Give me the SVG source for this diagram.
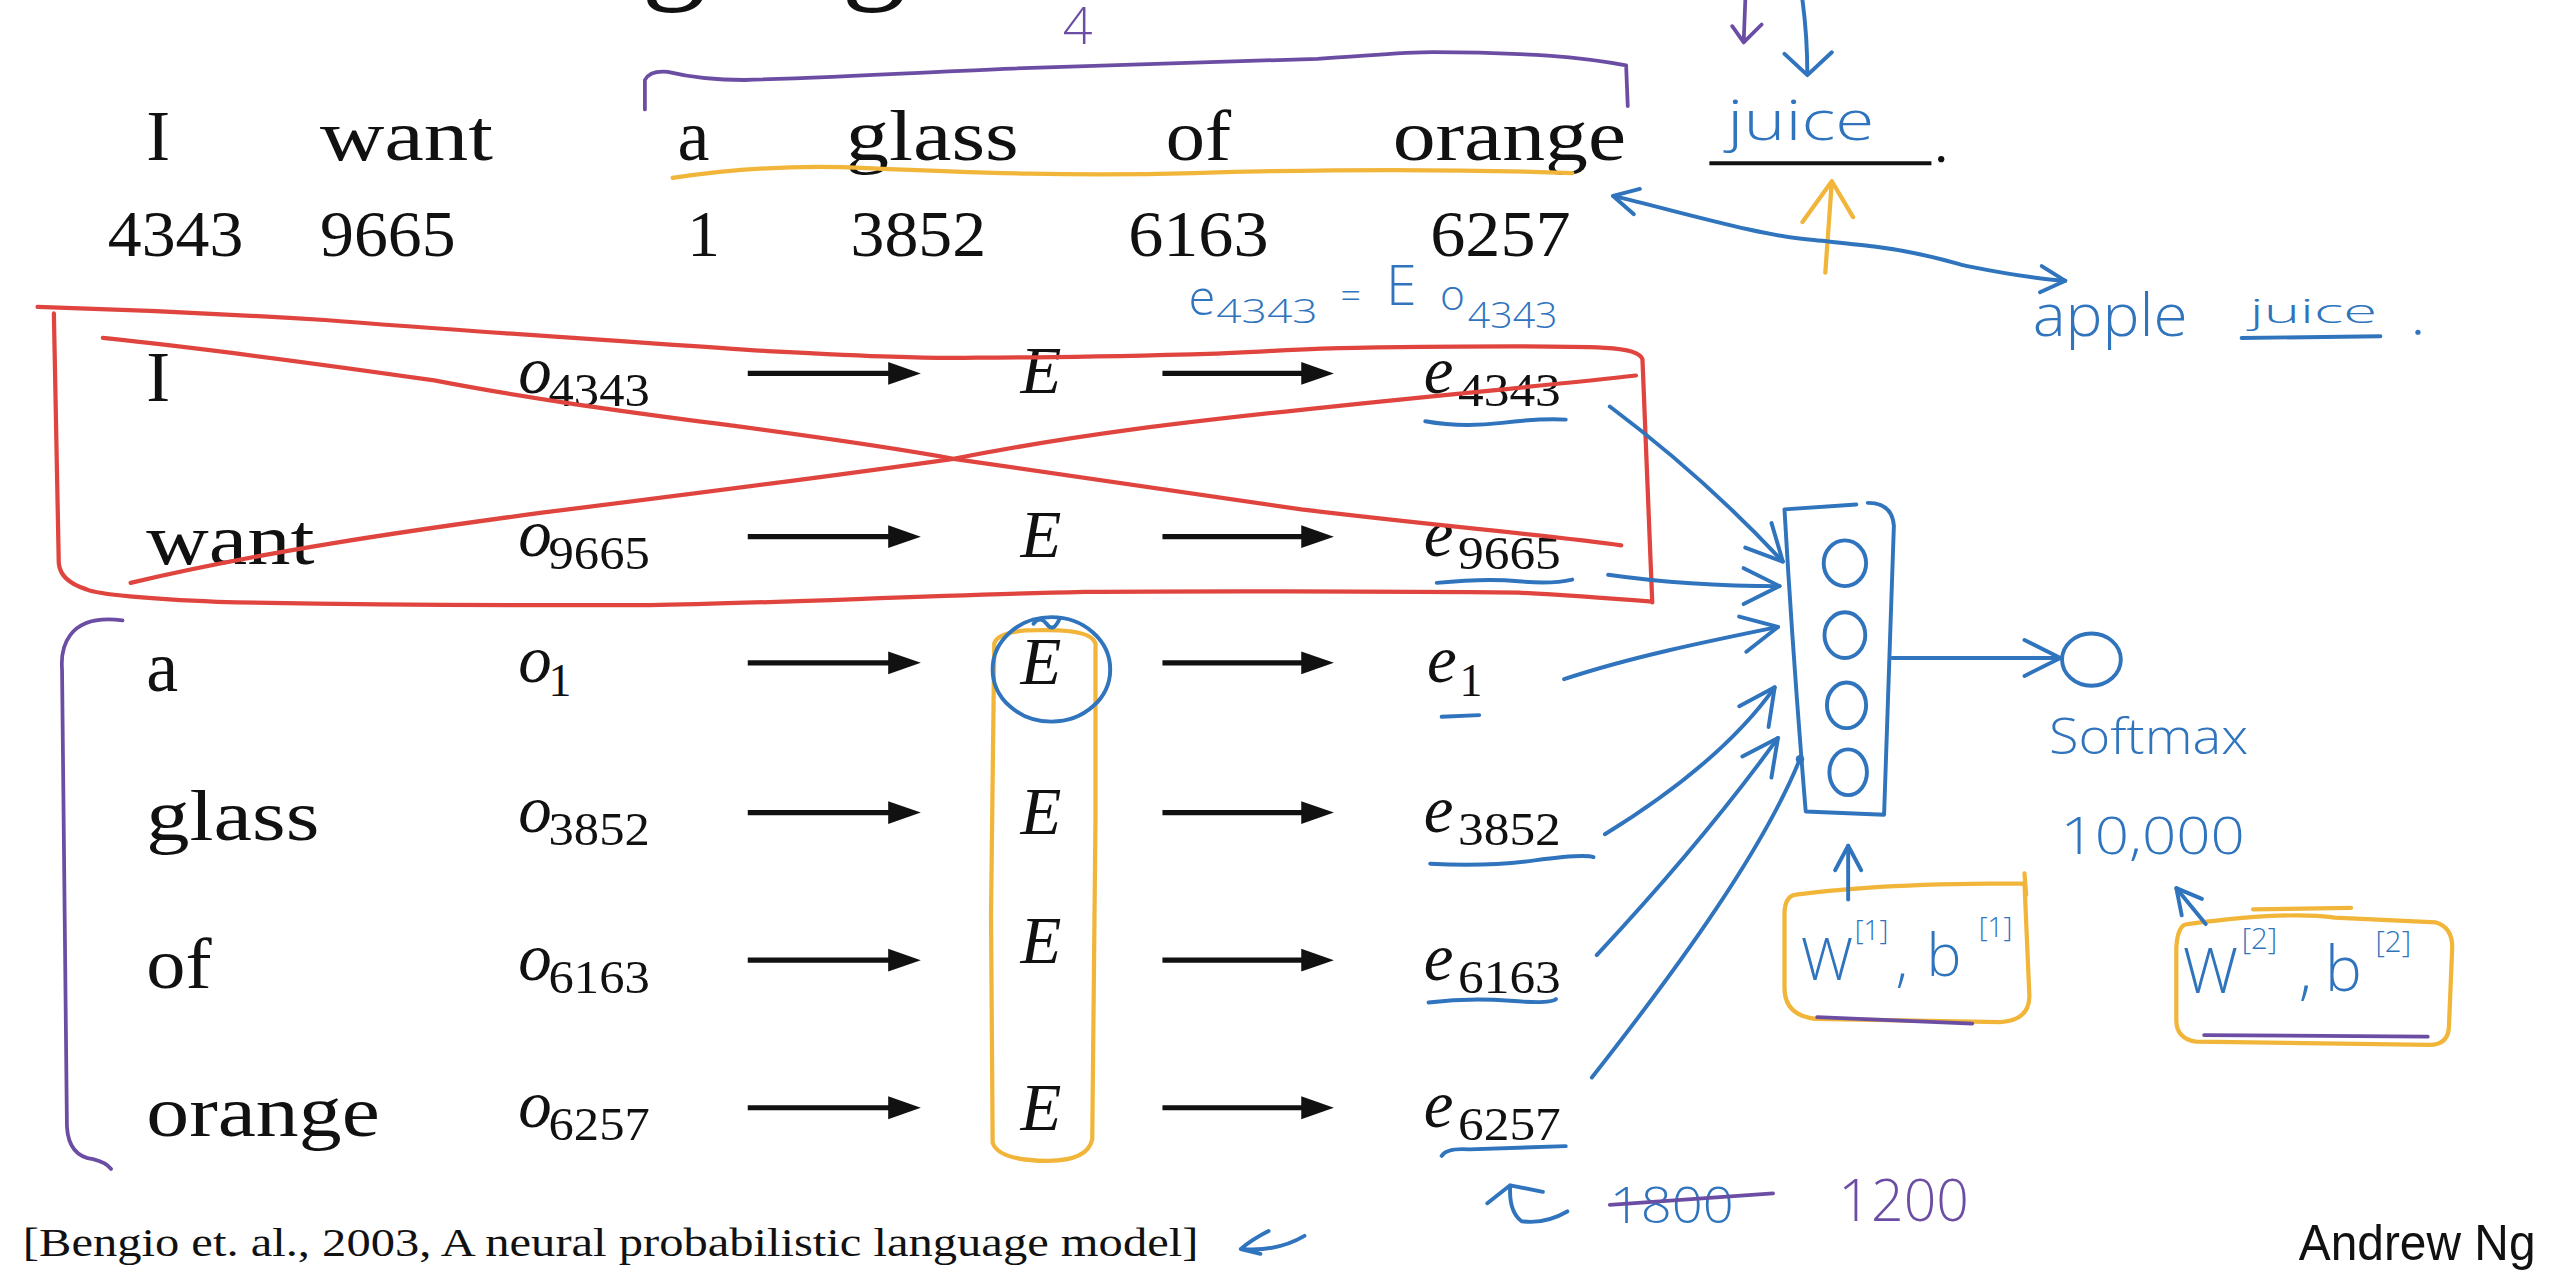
<svg xmlns="http://www.w3.org/2000/svg" width="2560" height="1280" viewBox="0 0 2560 1280">
<defs>
<style>
.w{font-family:"Liberation Serif","Times New Roman",serif;font-size:44px;fill:#111}
.n{font-family:"Liberation Serif","Times New Roman",serif;font-size:40px;fill:#111}
.m{font-family:"Liberation Serif","Times New Roman",serif;font-style:italic;font-size:41px;fill:#111}
.s{font-family:"Liberation Serif","Times New Roman",serif;font-size:28px;fill:#111}
.hb{font-family:"Open Sans","Noto Sans",sans-serif;font-weight:300;fill:#2f74bd}
.hp{font-family:"Open Sans","Noto Sans",sans-serif;font-weight:300;fill:#6b4ea3}
.blue{fill:none;stroke:#2f74bd;stroke-width:2.4;stroke-linecap:round;stroke-linejoin:round}
.red{fill:none;stroke:#e0443e;stroke-width:2.6;stroke-linecap:round;stroke-linejoin:round}
.pur{fill:none;stroke:#6b4ea3;stroke-width:2.3;stroke-linecap:round;stroke-linejoin:round}
.org{fill:none;stroke:#f1b53a;stroke-width:2.6;stroke-linecap:round;stroke-linejoin:round}
.ar{stroke:#111;stroke-width:3.2}
.ah{fill:#111}
</style>
<marker id="chev" markerUnits="userSpaceOnUse" markerWidth="28" markerHeight="28" viewBox="0 0 28 28" refX="25" refY="14" orient="auto">
<path d="M3,3 L25,14 L3,25" fill="none" stroke="#2f74bd" stroke-width="2.4" stroke-linecap="round" stroke-linejoin="round"/>
</marker>
<marker id="chevs" markerUnits="userSpaceOnUse" markerWidth="20" markerHeight="20" viewBox="0 0 20 20" refX="18" refY="10" orient="auto-start-reverse">
<path d="M3,2 L18,10 L3,18" fill="none" stroke="#2f74bd" stroke-width="2.4" stroke-linecap="round" stroke-linejoin="round"/>
</marker>
</defs>
<rect width="2560" height="1280" fill="#ffffff"/>
<g transform="scale(1.632653)">

<g id="title">
<text x="34.6" y="-9.4" letter-spacing="2.3" style="font-family:'Liberation Serif','Times New Roman',serif;font-size:80px;fill:#111">Neural language model</text>
</g>

<g id="sentence">
<text class="w" x="89.6" y="98">I</text>
<text class="w" x="196" y="98" textLength="106" lengthAdjust="spacingAndGlyphs">want</text>
<text class="w" x="415" y="98">a</text>
<text class="w" x="518" y="98" textLength="106" lengthAdjust="spacingAndGlyphs">glass</text>
<text class="w" x="714" y="98" textLength="40" lengthAdjust="spacingAndGlyphs">of</text>
<text class="w" x="853" y="98" textLength="143" lengthAdjust="spacingAndGlyphs">orange</text>
<path d="M1047,100 L1183,100" stroke="#111" stroke-width="2.5"/>
<circle cx="1189" cy="97.5" r="1.9" fill="#111"/>
</g>

<g id="indices">
<text class="n" x="66" y="157" textLength="83" lengthAdjust="spacingAndGlyphs">4343</text>
<text class="n" x="196" y="157" textLength="83" lengthAdjust="spacingAndGlyphs">9665</text>
<text class="n" x="421" y="157">1</text>
<text class="n" x="521" y="157" textLength="83" lengthAdjust="spacingAndGlyphs">3852</text>
<text class="n" x="691" y="157" textLength="86" lengthAdjust="spacingAndGlyphs">6163</text>
<text class="n" x="876" y="157" textLength="86" lengthAdjust="spacingAndGlyphs">6257</text>
</g>

<g id="row-I">
<text class="w" x="89.6" y="245.7">I</text>
<text class="m" x="317.5" y="240.7">o</text><text class="s" x="336" y="248.7" textLength="62" lengthAdjust="spacingAndGlyphs">4343</text>
<text class="m" x="625" y="241">E</text>
<text class="m" x="872" y="240.7">e</text><text class="s" x="893" y="248.7" textLength="63" lengthAdjust="spacingAndGlyphs">4343</text>
</g>
<g id="row-want">
<text class="w" x="89.6" y="345.7" textLength="103" lengthAdjust="spacingAndGlyphs">want</text>
<text class="m" x="317.5" y="340.7">o</text><text class="s" x="336" y="348.7" textLength="62" lengthAdjust="spacingAndGlyphs">9665</text>
<text class="m" x="625" y="341">E</text>
<text class="m" x="872" y="340.7">e</text><text class="s" x="893" y="348.7" textLength="63" lengthAdjust="spacingAndGlyphs">9665</text>
</g>
<g id="row-a">
<text class="w" x="89.6" y="423">a</text>
<text class="m" x="317.5" y="418">o</text><text class="s" x="336" y="426">1</text>
<text class="m" x="625" y="419">E</text>
<text class="m" x="874" y="418">e</text><text class="s" x="894" y="426">1</text>
</g>
<g id="row-glass">
<text class="w" x="89.6" y="514.7" textLength="106" lengthAdjust="spacingAndGlyphs">glass</text>
<text class="m" x="317.5" y="509.7">o</text><text class="s" x="336" y="517.7" textLength="62" lengthAdjust="spacingAndGlyphs">3852</text>
<text class="m" x="625" y="510.7">E</text>
<text class="m" x="872" y="509.7">e</text><text class="s" x="893" y="517.7" textLength="63" lengthAdjust="spacingAndGlyphs">3852</text>
</g>
<g id="row-of">
<text class="w" x="89.6" y="605.1" textLength="40" lengthAdjust="spacingAndGlyphs">of</text>
<text class="m" x="317.5" y="600.1">o</text><text class="s" x="336" y="608.1" textLength="62" lengthAdjust="spacingAndGlyphs">6163</text>
<text class="m" x="625" y="590">E</text>
<text class="m" x="872" y="600.1">e</text><text class="s" x="893" y="608.1" textLength="63" lengthAdjust="spacingAndGlyphs">6163</text>
</g>
<g id="row-orange">
<text class="w" x="89.6" y="695.5" textLength="143" lengthAdjust="spacingAndGlyphs">orange</text>
<text class="m" x="317.5" y="690.5">o</text><text class="s" x="336" y="698.5" textLength="62" lengthAdjust="spacingAndGlyphs">6257</text>
<text class="m" x="625" y="692">E</text>
<text class="m" x="872" y="690.5">e</text><text class="s" x="893" y="698.5" textLength="63" lengthAdjust="spacingAndGlyphs">6257</text>
</g>

<g id="table-arrows">
<line class="ar" x1="458" y1="228.7" x2="548" y2="228.7"/><polygon class="ah" points="544,221.7 564,228.7 544,235.7"/>
<line class="ar" x1="712" y1="228.7" x2="801" y2="228.7"/><polygon class="ah" points="797,221.7 817,228.7 797,235.7"/>
<line class="ar" x1="458" y1="328.7" x2="548" y2="328.7"/><polygon class="ah" points="544,321.7 564,328.7 544,335.7"/>
<line class="ar" x1="712" y1="328.7" x2="801" y2="328.7"/><polygon class="ah" points="797,321.7 817,328.7 797,335.7"/>
<line class="ar" x1="458" y1="406" x2="548" y2="406"/><polygon class="ah" points="544,399 564,406 544,413"/>
<line class="ar" x1="712" y1="406" x2="801" y2="406"/><polygon class="ah" points="797,399 817,406 797,413"/>
<line class="ar" x1="458" y1="497.7" x2="548" y2="497.7"/><polygon class="ah" points="544,490.7 564,497.7 544,504.7"/>
<line class="ar" x1="712" y1="497.7" x2="801" y2="497.7"/><polygon class="ah" points="797,490.7 817,497.7 797,504.7"/>
<line class="ar" x1="458" y1="588.1" x2="548" y2="588.1"/><polygon class="ah" points="544,581.1 564,588.1 544,595.1"/>
<line class="ar" x1="712" y1="588.1" x2="801" y2="588.1"/><polygon class="ah" points="797,581.1 817,588.1 797,595.1"/>
<line class="ar" x1="458" y1="678.5" x2="548" y2="678.5"/><polygon class="ah" points="544,671.5 564,678.5 544,685.5"/>
<line class="ar" x1="712" y1="678.5" x2="801" y2="678.5"/><polygon class="ah" points="797,671.5 817,678.5 797,685.5"/>
</g>

<g id="strike-box">
<path class="red" d="M23,188 C90,190 150,193 199,196 C300,204 398,210 470,215 C530,218 570,220 598,219 C650,219 690,218 730,217 C770,216 800,213 830,213 C900,212 960,212 983,213 Q1004,214 1006,220 L1012,369 M1012,368.5 C980,366 950,364 930,363 C850,362 720,362 664,362.5 C560,365 460,370 398,370.6 C300,371 200,370 133,368.6 C90,367 60,364 53,361 Q37,356 36,345 L33,192"/>
<path class="red" d="M63,207 C140,215 210,225 266,233 C380,255 480,262 584,281 C660,292 730,302 797,312 C880,322 950,328 993,334"/>
<path class="red" d="M80,357 C160,338 250,325 332,314 C420,303 500,293 584,281 C660,266 730,258 797,251 C880,242 950,236 1002,230"/>
</g>

<g id="embedding-column">
<path class="org" d="M609,394 Q612,386 636,386 Q668,385 671,394 L671,500 L669,698 Q666,711 642,711 Q612,711 608,700 L607,560 Z"/>
<ellipse class="blue" cx="644" cy="410" rx="36" ry="32"/>
<path class="blue" d="M633,382 Q637,377 641,382 Q645,388 649,379" stroke-width="1.6"/>
</g>

<g id="context-brackets">
<path class="pur" d="M75,380 Q52,377 43,389 Q37,397 38,410 L41,690 Q42,708 57,710 Q65,712 68,716"/>
<path class="pur" d="M395,67 L395,49 Q398,43 409,44 Q430,49 456,49 C520,47 570,44 620,42 C700,39 760,38 807,36 C840,34 860,32 878,32 C910,32 930,33 948,34 Q975,36 996,40 L997,65"/>
<text class="hp" x="651" y="27" font-size="32">4</text>
<path class="org" d="M412,109 Q470,100 531,103 C600,106 660,108 731,106 C800,104 880,103 963,106"/>
</g>

<g id="e-underlines">
<path class="blue" d="M873,258 Q895,262 920,259 T959,257"/>
<path class="blue" d="M880,357 Q910,354 930,356 T963,355"/>
<path class="blue" d="M883,439 L906,438"/>
<path class="blue" d="M876,529 Q910,531 940,527 T976,525"/>
<path class="blue" d="M875,614 Q900,611 925,613 T953,612"/>
<path class="blue" d="M883,708 Q886,703 900,704 Q930,703 959,702"/>
</g>

<g id="annotation-e4343">
<text class="hb" x="728" y="193" font-size="30">e</text>
<text class="hb" x="745" y="198" font-size="20" textLength="62" lengthAdjust="spacingAndGlyphs">4343</text>
<text class="hb" x="821" y="189" font-size="22">=</text>
<text class="hb" x="849" y="187" font-size="34">E</text>
<text class="hb" x="882" y="190" font-size="26">o</text>
<text class="hb" x="899" y="201" font-size="22" textLength="55" lengthAdjust="spacingAndGlyphs">4343</text>
</g>

<g id="target">
<text class="hb" x="1058" y="86" font-size="34" textLength="90" lengthAdjust="spacingAndGlyphs">juice</text>
<path class="pur" d="M1069,0 L1068,26 M1061,16 L1068,26 L1079,15"/>
<path class="blue" d="M1104,0 Q1107,22 1107,46 M1093,33 L1107,46 L1122,32"/>
<path class="org" d="M1118,167 L1122,111 M1104,136 L1122,111 L1135,133"/>
</g>

<g id="apple-juice">
<text class="hb" x="1245" y="206" font-size="36" textLength="95" lengthAdjust="spacingAndGlyphs">apple</text>
<text class="hb" x="1378" y="198" font-size="20" textLength="78" lengthAdjust="spacingAndGlyphs">juice</text>
<path class="blue" d="M1373,207 L1458,206"/>
<circle cx="1481" cy="203.5" r="1.6" fill="#2f74bd"/>
</g>

<g id="hidden-layer">
<path class="blue" d="M1137,309 L1093,312 Q1098,400 1106,497 L1154,499 L1160,322 Q1159,308 1144,308"/>
<ellipse class="blue" cx="1130" cy="345" rx="13" ry="14"/>
<ellipse class="blue" cx="1130" cy="389" rx="12.5" ry="14"/>
<ellipse class="blue" cx="1131" cy="432" rx="12" ry="14"/>
<ellipse class="blue" cx="1132" cy="473" rx="11.5" ry="14"/>
<circle cx="1102.5" cy="465" r="2.6" fill="#2f74bd"/>
</g>

<g id="softmax">
<ellipse class="blue" cx="1281" cy="404" rx="18" ry="16"/>
<text class="hb" x="1255" y="462" font-size="30" textLength="122" lengthAdjust="spacingAndGlyphs">Softmax</text>
<text class="hb" x="1262" y="523" font-size="32" textLength="113" lengthAdjust="spacingAndGlyphs">10,000</text>
</g>

<g id="params-1">
<path class="org" d="M1100,548 Q1150,541 1240,541 L1243,610 Q1243,625 1225,626 L1112,624 Q1093,622 1093,605 L1093,560 Q1093,549 1100,548 Z M1240,535 L1241,548"/>
<text class="hb" x="1103" y="600" font-size="36">W</text>
<text class="hb" x="1136" y="576" font-size="17">[1]</text>
<text class="hb" x="1161" y="600" font-size="36">,</text>
<text class="hb" x="1180" y="598" font-size="36">b</text>
<text class="hb" x="1212" y="574" font-size="17">[1]</text>
<path class="pur" d="M1113,623 L1208,627"/>
</g>

<g id="params-2">
<path class="org" d="M1340,566 Q1400,558 1430,562 L1492,565 Q1502,568 1502,580 L1500,628 Q1500,640 1488,640 L1345,638 Q1333,636 1333,625 L1333,580 Q1334,566 1340,566 Z M1380,557 L1440,556"/>
<text class="hb" x="1337" y="608" font-size="38">W</text>
<text class="hb" x="1373" y="581" font-size="18">[2]</text>
<text class="hb" x="1408" y="608" font-size="38">,</text>
<text class="hb" x="1424" y="607" font-size="38">b</text>
<text class="hb" x="1455" y="583" font-size="18">[2]</text>
<path class="pur" d="M1350,634 L1487,635"/>
</g>

<g id="connectors">
<path class="blue" marker-end="url(#chev)" d="M986,249 C1030,282 1065,315 1092,344"/>
<path class="blue" marker-end="url(#chev)" d="M985,352 C1020,357 1060,359 1090,359"/>
<path class="blue" marker-end="url(#chev)" d="M958,416 C1000,402 1050,392 1089,384"/>
<path class="blue" marker-end="url(#chev)" d="M983,511 C1030,482 1065,452 1087,421"/>
<path class="blue" marker-end="url(#chev)" d="M978,585 C1020,540 1060,492 1089,452"/>
<path class="blue" d="M975,660 C1030,590 1080,520 1102,466"/>
<path class="blue" marker-end="url(#chev)" d="M1159,403 L1262,403"/>
<path class="blue" marker-end="url(#chevs)" d="M1132,551 L1132,518"/>
<path class="blue" marker-end="url(#chevs)" d="M1351,566 L1333,544"/>
<path class="blue" marker-start="url(#chevs)" marker-end="url(#chevs)" d="M988,120 C1030,130 1080,145 1111,147 C1130,149 1140,150 1148,151 C1180,155 1200,162 1205,163 C1230,168 1250,171 1265,172"/>
</g>

<g id="dimension-note">
<path class="blue" d="M911,737 L925,726 L945,730 M925,726 Q924,742 932,748 Q946,750 960,742"/>
<text class="hb" x="986" y="749" font-size="30" textLength="76" lengthAdjust="spacingAndGlyphs">1800</text>
<path class="pur" d="M986,738 L1086,731"/>
<text class="hp" x="1126" y="748" font-size="36" textLength="80" lengthAdjust="spacingAndGlyphs">1200</text>
</g>

<g id="citation">
<text x="14" y="769" style="font-family:'Liberation Serif','Times New Roman',serif;font-size:25px;fill:#111" textLength="720" lengthAdjust="spacingAndGlyphs">[Bengio et. al., 2003, A neural probabilistic language model]</text>
<path class="blue" d="M777,754 Q767,759 760,765 L772,768 M760,765 Q782,767 799,757"/>
</g>

<g id="author">
<text x="1408" y="772" style="font-family:'Liberation Sans',Arial,sans-serif;font-size:31px;fill:#111" textLength="145" lengthAdjust="spacingAndGlyphs">Andrew Ng</text>
</g>

</g>
</svg>
